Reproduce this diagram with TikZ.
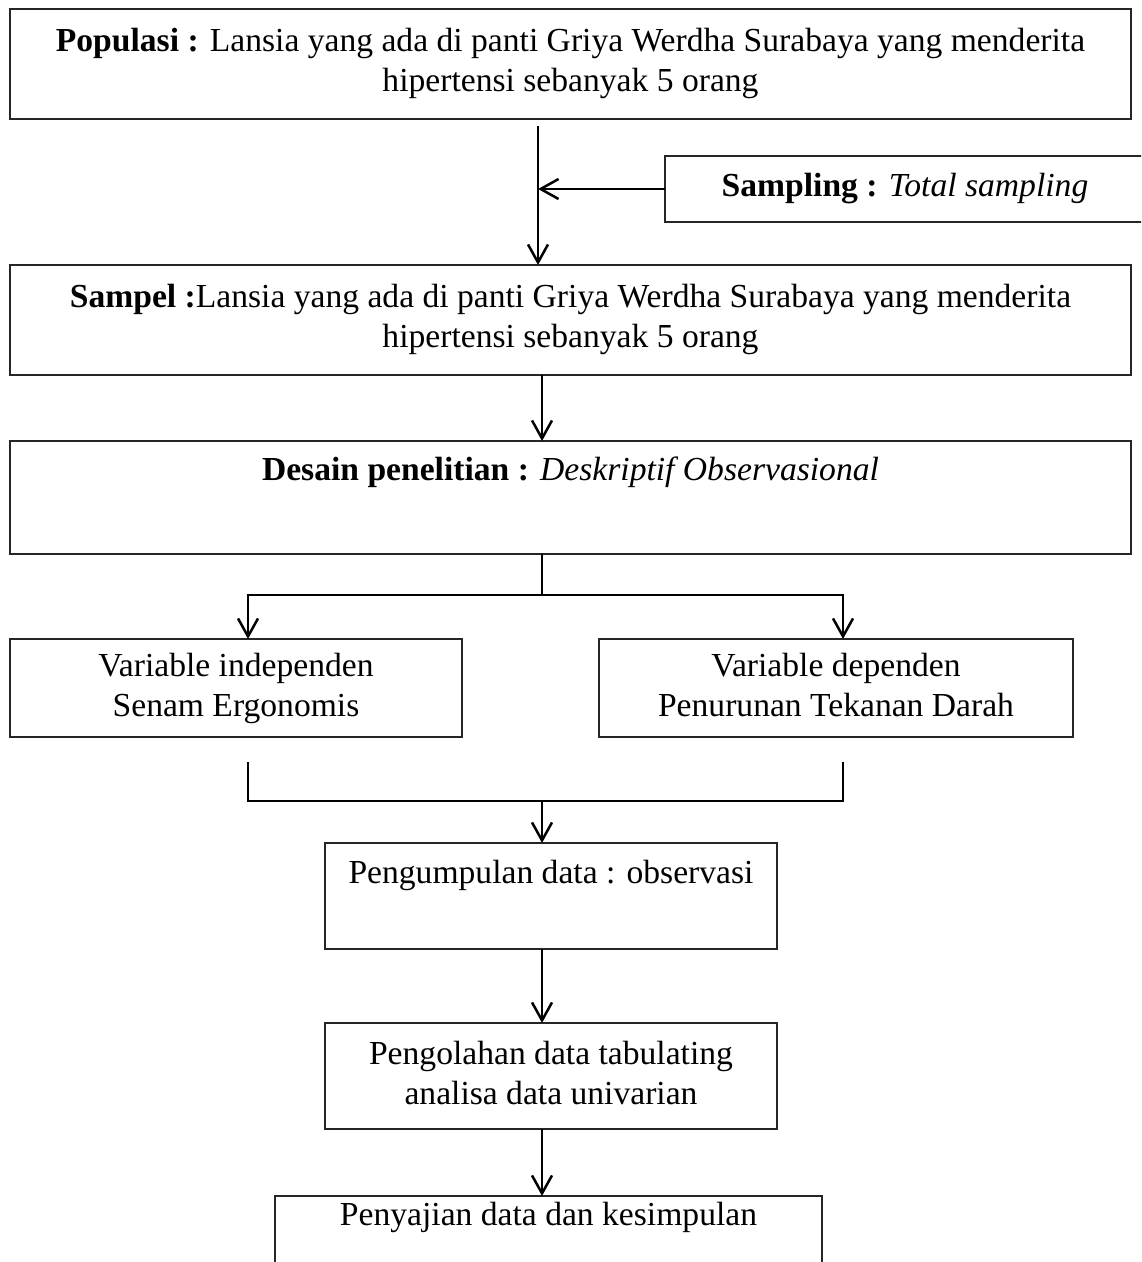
\documentclass[tikz,border=0pt]{standalone}
\usepackage{fontspec}
\setmainfont{Liberation Serif}
\usetikzlibrary{arrows.meta, positioning}
\tikzstyle{box} = [rectangle, draw=black!85, line width=0.8pt, inner sep=0pt, outer sep=0pt, align=center]
\tikzstyle{wide} = [box, minimum width=560.5pt, minimum height=55pt]
\tikzstyle{mid} = [box, minimum width=226pt, minimum height=53pt]
\tikzstyle{arrow} = [line width=1.25pt, -{Straight Barb[length=9pt, width=10pt]}]
\tikzstyle{stemline} = [line width=0.9pt]
\tikzstyle{mergeline} = [line width=1.1pt]

\begin{document}
\begin{tikzpicture}[x=0.5pt, y=-0.5pt, font=\fontsize{16.8}{20}\selectfont]
    \useasboundingbox (0,0) rectangle (1141,1262);
    \clip (0,0) rectangle (1141,1262);

    \node (populasi)    [wide] at (570.5,64) {\strut\textbf{Populasi :} Lansia yang ada di panti Griya Werdha Surabaya yang menderita\\
      \strut hipertensi sebanyak 5 orang};
    \node (sampling)    [box, minimum width=240pt, minimum height=33pt, below=18.5pt of populasi.south east,
      anchor=north east, xshift=7pt] {\textbf{Sampling :} \textit{Total sampling}};
    \node (sampel)      [wide, below=73pt of populasi] {\strut\textbf{Sampel :}Lansia yang ada di panti Griya Werdha Surabaya yang menderita\\
      \strut hipertensi sebanyak 5 orang};
    \node (desain)      [box, minimum width=560.5pt, text height=19.5pt, text depth=37pt, below=33pt of sampel]
      {\textbf{Desain penelitian :} \textit{Deskriptif Observasional}};
    \node (independen)  [box, minimum width=226pt, minimum height=49pt, below=42.5pt of desain.south west,
      anchor=north west] {\strut Variable independen\\\strut Senam Ergonomis};
    \node (dependen)    [box, minimum width=237pt, minimum height=49pt, below=42.5pt of desain.south east,
      anchor=north east, xshift=-29pt] {\strut Variable dependen\\\strut Penurunan Tekanan Darah};
    \node (pengumpulan) [box, minimum width=226pt, text height=20pt, text depth=33pt, below=144.5pt of desain,
      xshift=-9.75pt] {Pengumpulan data : observasi};
    \node (pengolahan)  [mid, below=37pt of pengumpulan] {\strut Pengolahan data tabulating\\\strut analisa data univarian};
    \node (penyajian)   [box, minimum width=273.5pt, text height=14.5pt, text depth=60pt, below=33.5pt of pengolahan,
      xshift=-1.25pt] {Penyajian data dan kesimpulan};

    \coordinate (spine) at (538,0);
    \coordinate (stem)  at (542,0);
    \coordinate (split) at (542,595);
    \coordinate (join)  at (542,801);

    \draw [arrow, shorten <=3.5pt] (populasi.south -| spine) -- (sampel.north -| spine);
    \draw [arrow] (sampling.west) -- (sampling.west -| spine);
    \draw [arrow] (sampel.south -| stem) -- (desain.north -| stem);
    \draw [stemline] (desain.south -| stem) -- (split);
    \draw [arrow] (split) -| ([xshift=6pt]independen.north);
    \draw [arrow] (split) -| ([xshift=3.5pt]dependen.north);
    \draw [mergeline, shorten <=12.5pt] ([xshift=6pt]independen.south) |- (join);
    \draw [mergeline, shorten <=12.5pt] ([xshift=3.5pt]dependen.south) |- (join);
    \draw [arrow] (join) -- (pengumpulan.north -| join);
    \draw [arrow] (pengumpulan.south -| stem) -- (pengolahan.north -| stem);
    \draw [arrow] (pengolahan.south -| stem) -- (penyajian.north -| stem);
\end{tikzpicture}
\end{document}
